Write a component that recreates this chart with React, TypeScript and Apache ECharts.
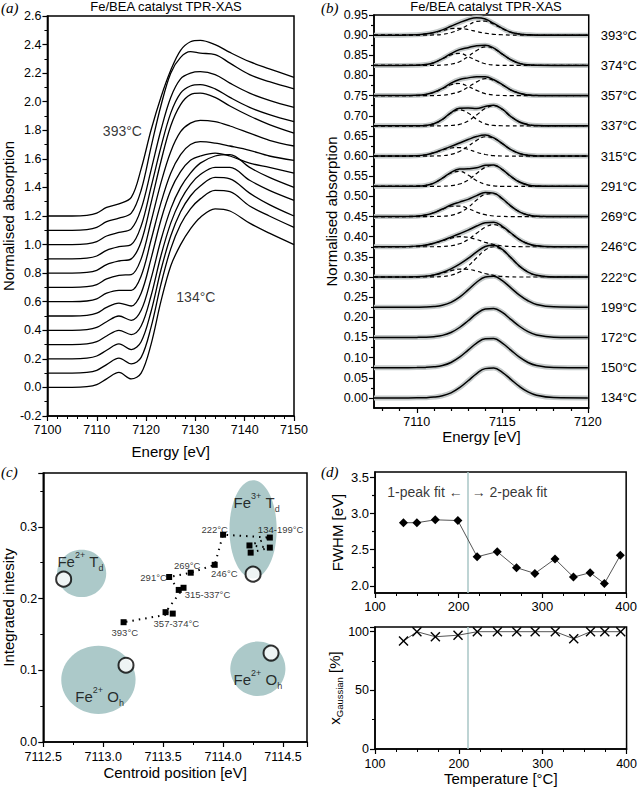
import React, { useEffect, useRef } from 'react';
import * as echarts from 'echarts';

const FONT = "'Liberation Sans', Arial, sans-serif";

// ---------- shared ----------
const TEMPS = [134, 150, 172, 199, 222, 246, 269, 291, 315, 337, 357, 374, 393];
const TEMP_LABELS = TEMPS.map((t) => `${t}°C`);

// ---------- panel (a): XANES spectra (offset already included) ----------
const ENERGY_A = [7100, 7105, 7108, 7110, 7112, 7114.5, 7117, 7119, 7121, 7123, 7125, 7127, 7129, 7131, 7134, 7137, 7141, 7145, 7150];
const XANES_134 = [0.0, 0.0, 0.005, 0.02, 0.06, 0.105, 0.06, 0.10, 0.30, 0.60, 0.85, 1.00, 1.11, 1.19, 1.25, 1.235, 1.15, 1.08, 1.00];
const XANES_150 = [0.1, 0.1, 0.105, 0.12, 0.16, 0.205, 0.165, 0.21, 0.42, 0.72, 0.97, 1.14, 1.25, 1.32, 1.38, 1.37, 1.27, 1.20, 1.12];
const XANES_172 = [0.2, 0.2, 0.205, 0.22, 0.26, 0.305, 0.265, 0.32, 0.53, 0.82, 1.06, 1.23, 1.34, 1.41, 1.47, 1.46, 1.36, 1.28, 1.20];
const XANES_199 = [0.3, 0.3, 0.305, 0.32, 0.36, 0.40, 0.37, 0.43, 0.64, 0.92, 1.15, 1.31, 1.42, 1.49, 1.54, 1.54, 1.45, 1.38, 1.31];
const XANES_222 = [0.4, 0.4, 0.405, 0.42, 0.46, 0.50, 0.47, 0.54, 0.76, 1.03, 1.25, 1.40, 1.50, 1.57, 1.62, 1.63, 1.54, 1.47, 1.40];
const XANES_246 = [0.5, 0.5, 0.505, 0.52, 0.56, 0.59, 0.57, 0.66, 0.90, 1.17, 1.38, 1.51, 1.59, 1.62, 1.64, 1.62, 1.57, 1.54, 1.50];
const XANES_269 = [0.6, 0.6, 0.605, 0.62, 0.66, 0.68, 0.68, 0.78, 1.03, 1.29, 1.50, 1.63, 1.70, 1.72, 1.71, 1.69, 1.66, 1.62, 1.59];
const XANES_291 = [0.7, 0.7, 0.705, 0.72, 0.76, 0.785, 0.79, 0.90, 1.16, 1.43, 1.65, 1.79, 1.85, 1.87, 1.86, 1.83, 1.78, 1.73, 1.69];
const XANES_315 = [0.8, 0.8, 0.805, 0.82, 0.86, 0.885, 0.90, 1.02, 1.29, 1.58, 1.83, 1.98, 2.05, 2.06, 2.03, 1.97, 1.90, 1.84, 1.78];
const XANES_337 = [0.9, 0.9, 0.905, 0.92, 0.96, 0.985, 1.00, 1.13, 1.40, 1.68, 1.92, 2.06, 2.11, 2.12, 2.09, 2.03, 1.96, 1.91, 1.86];
const XANES_357 = [1.0, 1.0, 1.005, 1.02, 1.06, 1.085, 1.11, 1.25, 1.52, 1.80, 2.03, 2.16, 2.20, 2.21, 2.19, 2.13, 2.06, 2.01, 1.96];
const XANES_374 = [1.1, 1.1, 1.105, 1.12, 1.16, 1.185, 1.22, 1.38, 1.68, 1.97, 2.20, 2.31, 2.35, 2.34, 2.33, 2.27, 2.19, 2.14, 2.09];
const XANES_393 = [1.2, 1.2, 1.205, 1.22, 1.26, 1.285, 1.33, 1.53, 1.80, 2.03, 2.22, 2.36, 2.42, 2.43, 2.40, 2.345, 2.28, 2.23, 2.17];
const XANES = [XANES_134, XANES_150, XANES_172, XANES_199, XANES_222, XANES_246, XANES_269, XANES_291, XANES_315, XANES_337, XANES_357, XANES_374, XANES_393];

// ---------- panel (b): pre-edge fits (heights above each baseline) ----------
const ENERGY_B = [7107.5, 7109, 7110, 7110.5, 7111, 7111.5, 7112, 7112.5, 7113, 7113.5, 7114, 7114.5, 7115, 7115.5, 7116, 7116.5, 7117, 7118, 7120];
const BASELINES_B = [0, 0.075, 0.15, 0.225, 0.30, 0.375, 0.45, 0.525, 0.60, 0.675, 0.75, 0.825, 0.90];
const FIT_134 = [0, 0, 0.0002, 0.0006, 0.002, 0.0053, 0.0126, 0.0253, 0.0425, 0.0605, 0.0727, 0.074, 0.0636, 0.046, 0.0285, 0.0148, 0.0065, 0.0008, 0];
const FIT_150 = [0, 0, 0.0002, 0.0007, 0.0022, 0.0056, 0.013, 0.026, 0.0435, 0.061, 0.072, 0.0725, 0.061, 0.0435, 0.026, 0.013, 0.0056, 0.0007, 0];
const FIT_172 = [0, 0, 0.0002, 0.0006, 0.002, 0.0052, 0.0123, 0.0247, 0.0414, 0.059, 0.0708, 0.072, 0.062, 0.0448, 0.0278, 0.0144, 0.0063, 0.0008, 0];
const FIT_199 = [0, 0, 0.0002, 0.0005, 0.0018, 0.005, 0.012, 0.025, 0.043, 0.062, 0.075, 0.077, 0.066, 0.048, 0.030, 0.016, 0.007, 0.001, 0];
const FIT_222 = [0, 0, 0.0005, 0.0018, 0.005, 0.011, 0.0201, 0.0319, 0.0461, 0.0622, 0.0756, 0.079, 0.0684, 0.0481, 0.027, 0.0123, 0.0044, 0.0003, 0];
const FIT_246 = [0, 0.0001, 0.0016, 0.004, 0.0088, 0.0156, 0.0239, 0.0324, 0.0413, 0.0514, 0.0595, 0.0606, 0.0508, 0.0342, 0.018, 0.0074, 0.0024, 0.0001, 0];
const FIT_269 = [0, 0, 0.001, 0.0036, 0.0096, 0.0188, 0.0285, 0.0357, 0.0426, 0.052, 0.0596, 0.0581, 0.0443, 0.026, 0.0116, 0.004, 0.001, 0, 0];
const FIT_291 = [0, 0, 0.0004, 0.002, 0.008, 0.0203, 0.0345, 0.0427, 0.0435, 0.046, 0.052, 0.053, 0.0415, 0.0245, 0.0107, 0.0034, 0.0008, 0, 0];
const FIT_315 = [0, 0, 0.0008, 0.003, 0.0082, 0.016, 0.024, 0.0325, 0.041, 0.0485, 0.052, 0.045, 0.031, 0.016, 0.0065, 0.002, 0.0005, 0, 0];
const FIT_337 = [0, 0, 0.0002, 0.001, 0.005, 0.0161, 0.0328, 0.0436, 0.044, 0.043, 0.048, 0.051, 0.0412, 0.023, 0.0095, 0.003, 0.0006, 0, 0];
const FIT_357 = [0, 0, 0.0006, 0.0025, 0.0082, 0.018, 0.031, 0.040, 0.044, 0.047, 0.047, 0.0394, 0.0273, 0.014, 0.006, 0.0017, 0.0004, 0, 0];
const FIT_374 = [0, 0, 0.0003, 0.002, 0.0066, 0.0167, 0.029, 0.039, 0.044, 0.049, 0.050, 0.043, 0.028, 0.014, 0.005, 0.0013, 0.0003, 0, 0];
const FIT_393 = [0, 0, 0.001, 0.003, 0.0065, 0.013, 0.022, 0.031, 0.039, 0.043, 0.040, 0.029, 0.017, 0.007, 0.003, 0.001, 0, 0, 0];
const FITS = [FIT_134, FIT_150, FIT_172, FIT_199, FIT_222, FIT_246, FIT_269, FIT_291, FIT_315, FIT_337, FIT_357, FIT_374, FIT_393];

// two-peak components (index into TEMPS, left component, right component)
const LEFT_222 = [0, 0, 0.0005, 0.0018, 0.0047, 0.0097, 0.0157, 0.0196, 0.0191, 0.0145, 0.0086, 0.004, 0.0014, 0.0004, 0, 0, 0, 0, 0];
const RIGHT_222 = [0, 0, 0, 0, 0.0003, 0.0013, 0.0044, 0.0123, 0.027, 0.0477, 0.067, 0.075, 0.067, 0.0477, 0.027, 0.0123, 0.0044, 0.0003, 0];
const LEFT_246 = [0, 0.0001, 0.0016, 0.004, 0.0087, 0.015, 0.0215, 0.025, 0.0235, 0.018, 0.011, 0.0056, 0.0023, 0.0008, 0.0002, 0, 0, 0, 0];
const RIGHT_246 = [0, 0, 0, 0, 0.0001, 0.0006, 0.0024, 0.0074, 0.0178, 0.0334, 0.0485, 0.055, 0.0485, 0.0334, 0.0178, 0.0074, 0.0024, 0.0001, 0];
const LEFT_269 = [0, 0, 0.001, 0.0036, 0.0095, 0.018, 0.0255, 0.026, 0.020, 0.011, 0.0046, 0.0014, 0.0003, 0, 0, 0, 0, 0, 0];
const RIGHT_269 = [0, 0, 0, 0, 0.0001, 0.0008, 0.003, 0.0097, 0.0226, 0.041, 0.055, 0.0567, 0.044, 0.026, 0.0116, 0.004, 0.001, 0, 0];
const LEFT_291 = [0, 0, 0.0004, 0.002, 0.008, 0.020, 0.033, 0.037, 0.028, 0.014, 0.005, 0.001, 0, 0, 0, 0, 0, 0, 0];
const RIGHT_291 = [0, 0, 0, 0, 0, 0.0003, 0.0015, 0.0057, 0.0155, 0.032, 0.047, 0.052, 0.0415, 0.0245, 0.0107, 0.0034, 0.0008, 0, 0];
const LEFT_315 = [0, 0, 0.0008, 0.003, 0.008, 0.015, 0.020, 0.021, 0.0165, 0.0095, 0.004, 0.001, 0.0002, 0, 0, 0, 0, 0, 0];
const RIGHT_315 = [0, 0, 0, 0, 0.0002, 0.001, 0.0042, 0.0115, 0.0245, 0.039, 0.048, 0.044, 0.031, 0.016, 0.0065, 0.002, 0.0005, 0, 0];
const LEFT_337 = [0, 0, 0.0002, 0.001, 0.005, 0.016, 0.032, 0.040, 0.032, 0.016, 0.005, 0.001, 0.0002, 0, 0, 0, 0, 0, 0];
const RIGHT_337 = [0, 0, 0, 0, 0, 0.0001, 0.0008, 0.0036, 0.012, 0.027, 0.043, 0.050, 0.041, 0.023, 0.0095, 0.003, 0.0006, 0, 0];
const LEFT_357 = [0, 0, 0.0006, 0.0025, 0.008, 0.017, 0.027, 0.030, 0.023, 0.013, 0.005, 0.0014, 0.0003, 0, 0, 0, 0, 0, 0];
const RIGHT_357 = [0, 0, 0, 0, 0.0002, 0.001, 0.004, 0.010, 0.021, 0.034, 0.042, 0.038, 0.027, 0.014, 0.006, 0.0017, 0.0004, 0, 0];
const LEFT_374 = [0, 0, 0.0003, 0.002, 0.0065, 0.016, 0.026, 0.030, 0.022, 0.012, 0.004, 0.001, 0, 0, 0, 0, 0, 0, 0];
const RIGHT_374 = [0, 0, 0, 0, 0.0001, 0.0007, 0.003, 0.009, 0.022, 0.037, 0.046, 0.042, 0.028, 0.014, 0.005, 0.0013, 0.0003, 0, 0];
const LEFT_393 = [0, 0, 0.001, 0.003, 0.006, 0.011, 0.016, 0.017, 0.014, 0.009, 0.005, 0.002, 0.001, 0, 0, 0, 0, 0, 0];
const RIGHT_393 = [0, 0, 0, 0, 0.0005, 0.002, 0.006, 0.014, 0.025, 0.034, 0.035, 0.027, 0.016, 0.007, 0.003, 0.001, 0, 0, 0];
const COMPONENTS: [number, number[], number[]][] = [
  [4, LEFT_222, RIGHT_222], [5, LEFT_246, RIGHT_246], [6, LEFT_269, RIGHT_269],
  [7, LEFT_291, RIGHT_291], [8, LEFT_315, RIGHT_315], [9, LEFT_337, RIGHT_337],
  [10, LEFT_357, RIGHT_357], [11, LEFT_374, RIGHT_374], [12, LEFT_393, RIGHT_393],
];

// ---------- panel (c): centroid vs integrated intensity ----------
const CENTROID = [7114.23, 7114.39, 7114.22, 7114.39, 7114.00, 7113.93, 7113.73, 7113.55, 7113.63, 7113.67, 7113.52, 7113.58, 7113.17];
const INTENSITY = [0.264, 0.271, 0.274, 0.285, 0.289, 0.247, 0.236, 0.230, 0.212, 0.215, 0.181, 0.179, 0.167];
const REF_CENTROID = [7112.67, 7114.25, 7113.19, 7114.40];
const REF_INTENSITY = [0.227, 0.234, 0.107, 0.124];
// reference regions: centre x, centre y, half-width (eV), half-height
const REGION_X = [7114.25, 7112.82, 7112.96, 7114.29];
const REGION_Y = [0.2965, 0.235, 0.0867, 0.102];
const REGION_RX = [0.197, 0.205, 0.31, 0.23];
const REGION_RY = [0.0685, 0.033, 0.0475, 0.038];
const REGION_LABELS = ['{m|Fe}{sup|3+}{m| T}{sub|d}', '{m|Fe}{sup|2+}{m| T}{sub|d}', '{m|Fe}{sup|2+}{m| O}{sub|h}', '{m|Fe}{sup|2+}{m| O}{sub|h}'];
const REGION_LABEL_POS = [[7114.28, 0.334], [7112.81, 0.252], [7112.97, 0.063], [7114.29, 0.087]];
const POINT_LABELS = ['222°C', '134-199°C', '269°C', '246°C', '291°C', '315-337°C', '357-374°C', '393°C'];
const POINT_LABEL_POS = [[7113.93, 0.296], [7114.48, 0.296], [7113.70, 0.246], [7114.01, 0.235], [7113.42, 0.229], [7113.87, 0.206], [7113.61, 0.165], [7113.18, 0.152]];

// ---------- panel (d) ----------
const FWHM = [2.87, 2.87, 2.91, 2.90, 2.40, 2.47, 2.25, 2.17, 2.37, 2.12, 2.18, 2.03, 2.42];
const X_GAUSSIAN = [92, 100, 95.7, 97, 100, 100, 100, 100, 100, 94, 100, 100, 100];
const FIT_SWITCH_T = 211;

// tick label values
const B_X_LABELS = [7110, 7115, 7120];
const B_X_MINOR = [7108, 7109, 7111, 7112, 7113, 7114, 7116, 7117, 7118, 7119];
const B_Y_LABELS = [0, 0.05, 0.1, 0.15, 0.2, 0.25, 0.3, 0.35, 0.4, 0.45, 0.5, 0.55, 0.6, 0.65, 0.7, 0.75, 0.8, 0.85, 0.9, 0.95];
const B_Y_MINOR = [0.025, 0.075, 0.125, 0.175, 0.225, 0.275, 0.325, 0.375, 0.425, 0.475, 0.525, 0.575, 0.625, 0.675, 0.725, 0.775, 0.825, 0.875, 0.925];
const D_Y_LABELS = [2.0, 2.5, 3.0, 3.5];
const D_Y_MINOR = [2.25, 2.75, 3.25];

function axis(o: any) {
  const base: any = {
    axisLine: { show: true, onZero: false, lineStyle: { color: '#000', width: 1.5 } },
    axisTick: { show: true, inside: false, length: 5, lineStyle: { color: '#000', width: 1.2 } },
    minorTick: { show: true, length: 3, lineStyle: { color: '#000', width: 1 } },
    splitLine: { show: false },
    axisLabel: { color: '#000', fontSize: 12.5, fontFamily: FONT },
    nameTextStyle: { color: '#000', fontSize: 15, fontFamily: FONT },
  };
  const out: any = { ...base, ...o };
  for (const k of ['axisLine', 'axisTick', 'minorTick', 'axisLabel', 'nameTextStyle']) {
    if (o[k]) out[k] = { ...base[k], ...o[k] };
  }
  return out;
}

function textSeries(xi: number, yi: number, items: any[], extra: any = {}) {
  return {
    type: 'scatter', xAxisIndex: xi, yAxisIndex: yi, symbolSize: 0, silent: true, z: 10,
    itemStyle: { color: 'rgba(0,0,0,0)' },
    label: { show: true, position: [0, 0], align: 'center', verticalAlign: 'middle', color: '#000', fontFamily: FONT, fontSize: 12, ...extra },
    data: items,
  };
}

function buildOption() {
  const series: any[] = [];

  // (a)
  XANES.forEach((arr, i) => {
    series.push({
      type: 'line', xAxisIndex: 0, yAxisIndex: 0, showSymbol: false, smooth: 0.35,
      lineStyle: { color: '#000', width: 1.3 }, data: ENERGY_A.map((e, j) => [e, arr[j]]), name: TEMP_LABELS[i],
    });
  });
  series.push(textSeries(0, 0, [
    { value: [7115.2, 1.797], label: { formatter: TEMP_LABELS[12] } },
    { value: [7130.1, 0.63], label: { formatter: TEMP_LABELS[0] } },
  ], { fontSize: 14 }));

  // (b) grey data
  FITS.forEach((arr, i) => {
    series.push({
      type: 'line', xAxisIndex: 1, yAxisIndex: 1, showSymbol: false, smooth: 0.4, z: 1,
      lineStyle: { color: '#c4c9c9', width: 5 }, data: ENERGY_B.map((e, j) => [e, BASELINES_B[i] + arr[j]]),
    });
  });
  // (b) dashed components
  COMPONENTS.forEach(([ti, L, R]) => {
    [L, R].forEach((arr) => {
      series.push({
        type: 'line', xAxisIndex: 1, yAxisIndex: 1, showSymbol: false, smooth: 0.4, z: 2,
        lineStyle: { color: '#000', width: 1.2, type: [4, 3] }, data: ENERGY_B.map((e, j) => [e, BASELINES_B[ti] + arr[j]]),
      });
    });
  });
  // (b) fits
  FITS.forEach((arr, i) => {
    series.push({
      type: 'line', xAxisIndex: 1, yAxisIndex: 1, showSymbol: false, smooth: 0.4, z: 3,
      lineStyle: { color: '#000', width: 1.5 }, data: ENERGY_B.map((e, j) => [e, BASELINES_B[i] + arr[j]]),
    });
  });

  // (c) regions
  series.push({
    type: 'custom', xAxisIndex: 3, yAxisIndex: 4, z: 1, silent: true,
    data: REGION_X.map((x, i) => [x, REGION_Y[i], REGION_RX[i], REGION_RY[i]]),
    renderItem: (params: any, api: any) => {
      const c = api.coord([api.value(0), api.value(1)]);
      const s = api.size([api.value(2), api.value(3)]);
      return { type: 'ellipse', shape: { cx: c[0], cy: c[1], rx: s[0], ry: s[1] }, style: { fill: '#acc9c9' } };
    },
  });
  series.push({
    type: 'scatter', xAxisIndex: 3, yAxisIndex: 4, z: 3, symbol: 'circle', symbolSize: 15,
    itemStyle: { color: '#fff', borderColor: '#000', borderWidth: 2 },
    data: REF_CENTROID.map((x, i) => [x, REF_INTENSITY[i]]),
  });
  series.push({
    type: 'line', xAxisIndex: 3, yAxisIndex: 4, z: 4, symbol: 'rect', symbolSize: 6,
    itemStyle: { color: '#000' }, lineStyle: { color: '#000', width: 2, type: [1.5, 5] },
    data: CENTROID.map((x, i) => [x, INTENSITY[i]]),
  });
  series.push(textSeries(3, 4, POINT_LABELS.map((t, i) => ({ value: POINT_LABEL_POS[i], label: { formatter: t } })), { fontSize: 9.5 }));
  series.push(textSeries(3, 4, REGION_LABELS.map((t, i) => ({ value: REGION_LABEL_POS[i], label: { formatter: t } })), {
    rich: {
      m: { fontSize: 15, fontFamily: FONT, color: '#000', lineHeight: 22, verticalAlign: 'middle' },
      sup: { fontSize: 9, fontFamily: FONT, color: '#000', lineHeight: 22, verticalAlign: 'top', padding: [0, 0, 10, 0] },
      sub: { fontSize: 9, fontFamily: FONT, color: '#000', lineHeight: 22, verticalAlign: 'bottom', padding: [8, 0, 0, 0] },
    },
  }));

  // (d) top
  series.push({
    type: 'line', xAxisIndex: 4, yAxisIndex: 5, z: 3, symbol: 'diamond', symbolSize: 9,
    itemStyle: { color: '#000' }, lineStyle: { color: '#555', width: 1 },
    data: TEMPS.map((t, i) => [t, FWHM[i]]),
    markLine: {
      silent: true, symbol: 'none', label: { show: false }, z: 1,
      lineStyle: { color: '#a9c6c6', width: 1.5, type: 'solid' }, data: [{ xAxis: FIT_SWITCH_T }],
    },
  });
  series.push(textSeries(4, 5, [
    { value: [204.8, 3.29], label: { formatter: '1-peak fit ←', align: 'right' } },
    { value: [215.5, 3.29], label: { formatter: '→ 2-peak fit', align: 'left' } },
  ], { fontSize: 14 }));

  // (d) bottom
  series.push({
    type: 'line', xAxisIndex: 5, yAxisIndex: 6, z: 3,
    symbol: 'path://M0,1 L1,0 L5,4 L9,0 L10,1 L6,5 L10,9 L9,10 L5,6 L1,10 L0,9 L4,5 Z', symbolSize: 10,
    itemStyle: { color: '#000' }, lineStyle: { color: '#555', width: 1 },
    data: TEMPS.map((t, i) => [t, X_GAUSSIAN[i]]),
    markLine: {
      silent: true, symbol: 'none', label: { show: false }, z: 1,
      lineStyle: { color: '#a9c6c6', width: 1.5, type: 'solid' }, data: [{ xAxis: FIT_SWITCH_T }],
    },
  });

  const gridBase = { show: true, borderColor: '#000', borderWidth: 1.5, containLabel: false };

  return {
    animation: false,
    backgroundColor: '#fff',
    textStyle: { fontFamily: FONT },
    grid: [
      { ...gridBase, left: 42, top: 16, width: 252, height: 400 },
      { ...gridBase, left: 374, top: 15, width: 218, height: 393 },
      { ...gridBase, left: 38, top: 473, width: 269, height: 269 },
      { ...gridBase, left: 375, top: 472, width: 252, height: 121 },
      { ...gridBase, left: 375, top: 627, width: 252, height: 122 },
    ],
    xAxis: [
      axis({ gridIndex: 0, type: 'value', min: 7100, max: 7150, interval: 10, minorTick: { show: true, splitNumber: 5 },
        name: 'Energy [eV]', nameLocation: 'middle', nameGap: 28,
        axisLabel: { margin: 7, formatter: (v: number) => String(Math.round(v)) } }),
      axis({ gridIndex: 1, type: 'value', min: 7107.5, max: 7120.05, position: 'bottom',
        axisLabel: { customValues: B_X_LABELS, margin: 7, formatter: (v: number) => String(Math.round(v)) },
        axisTick: { customValues: B_X_LABELS }, minorTick: { show: false },
        name: 'Energy [eV]', nameLocation: 'middle', nameGap: 21 }),
      axis({ gridIndex: 1, type: 'value', min: 7107.5, max: 7120.05, position: 'bottom', offset: 0,
        axisLine: { show: false }, axisLabel: { show: false }, minorTick: { show: false },
        axisTick: { customValues: B_X_MINOR, length: 3 } }),
      axis({ gridIndex: 2, type: 'value', min: 7112.5, max: 7114.7, interval: 0.5, minorTick: { show: true, splitNumber: 2 },
        axisLabel: { showMaxLabel: false, fontSize: 12.5, margin: 8, formatter: (v: number) => v.toFixed(1) },
        name: 'Centroid position [eV]', nameLocation: 'middle', nameGap: 23 }),
      axis({ gridIndex: 3, type: 'value', min: 100, max: 400, interval: 100, minorTick: { show: true, splitNumber: 4 },
        axisLabel: { fontSize: 13, margin: 7, formatter: (v: number) => String(Math.round(v)) } }),
      axis({ gridIndex: 4, type: 'value', min: 100, max: 400, interval: 100, minorTick: { show: true, splitNumber: 4 },
        axisLabel: { fontSize: 12.5, margin: 8, formatter: (v: number) => String(Math.round(v)) },
        name: 'Temperature [°C]', nameLocation: 'middle', nameGap: 22 }),
    ],
    yAxis: [
      axis({ gridIndex: 0, type: 'value', min: -0.2, max: 2.6, interval: 0.2, minorTick: { show: true, splitNumber: 2 },
        axisLabel: { margin: 6, formatter: (v: number) => v.toFixed(1) },
        name: 'Normalised absorption', nameLocation: 'middle', nameGap: 27 }),
      axis({ gridIndex: 1, type: 'value', min: -0.025, max: 0.95, position: 'left',
        axisLabel: { customValues: B_Y_LABELS, margin: 6, formatter: (v: number) => v.toFixed(2) },
        axisTick: { customValues: B_Y_LABELS }, minorTick: { show: false },
        name: 'Normalised absorption', nameLocation: 'middle', nameGap: 35 }),
      axis({ gridIndex: 1, type: 'value', min: -0.025, max: 0.95, position: 'right',
        axisLine: { show: false }, axisTick: { show: false }, minorTick: { show: false },
        axisLabel: { customValues: BASELINES_B, margin: 12, fontSize: 13,
          formatter: (v: number) => { const i = BASELINES_B.findIndex((b) => Math.abs(b - v) < 1e-6); return i >= 0 ? TEMP_LABELS[i] : ''; } } }),
      axis({ gridIndex: 1, type: 'value', min: -0.025, max: 0.95, position: 'left', offset: 0,
        axisLine: { show: false }, axisLabel: { show: false }, minorTick: { show: false },
        axisTick: { customValues: B_Y_MINOR, length: 3 } }),
      axis({ gridIndex: 2, type: 'value', min: 0, max: 0.375, interval: 0.1, minorTick: { show: true, splitNumber: 2 },
        axisLabel: { showMaxLabel: false, fontSize: 12.5, margin: 6, formatter: (v: number) => v.toFixed(1) },
        name: 'Integrated intesity', nameLocation: 'middle', nameGap: 24 }),
      axis({ gridIndex: 3, type: 'value', min: 1.9, max: 3.57, position: 'left',
        axisLabel: { customValues: D_Y_LABELS, fontSize: 13, margin: 6, formatter: (v: number) => v.toFixed(1) },
        axisTick: { customValues: D_Y_LABELS }, minorTick: { show: false },
        name: 'FWHM [eV]', nameLocation: 'middle', nameGap: 30 }),
      axis({ gridIndex: 4, type: 'value', min: 0, max: 104, interval: 50, minorTick: { show: true, splitNumber: 2 },
        axisLabel: { showMaxLabel: false, fontSize: 12.5, margin: 6 },
        name: '{x|x}{s|Gaussian}{x| [%]}', nameLocation: 'middle', nameGap: 27,
        nameTextStyle: { rich: {
          x: { fontSize: 15, fontFamily: FONT, color: '#000', lineHeight: 20, verticalAlign: 'middle' },
          s: { fontSize: 9.5, fontFamily: FONT, color: '#000', lineHeight: 20, verticalAlign: 'bottom', padding: [7, 0, 0, 0] },
        } } }),
      axis({ gridIndex: 3, type: 'value', min: 1.9, max: 3.57, position: 'left', offset: 0,
        axisLine: { show: false }, axisLabel: { show: false }, minorTick: { show: false },
        axisTick: { customValues: D_Y_MINOR, length: 3 } }),
    ],
    graphic: [
      { type: 'text', left: 1, top: 0, style: { text: '(a)', font: 'italic 15px "Liberation Serif", serif', fill: '#000' } },
      { type: 'text', left: 321, top: 0, style: { text: '(b)', font: 'italic 15px "Liberation Serif", serif', fill: '#000' } },
      { type: 'text', left: 1, top: 464, style: { text: '(c)', font: 'italic 15px "Liberation Serif", serif', fill: '#000' } },
      { type: 'text', left: 321, top: 464, style: { text: '(d)', font: 'italic 15px "Liberation Serif", serif', fill: '#000' } },
      { type: 'text', x: 166, y: 6, style: { text: 'Fe/BEA catalyst TPR-XAS', font: `13px ${FONT}`, fill: '#000', textAlign: 'center', textVerticalAlign: 'middle' } },
      { type: 'text', x: 486, y: 6, style: { text: 'Fe/BEA catalyst TPR-XAS', font: `13px ${FONT}`, fill: '#000', textAlign: 'center', textVerticalAlign: 'middle' } },
    ],
    series,
  };
}

export default function App() {
  const ref = useRef<HTMLDivElement>(null);
  useEffect(() => {
    if (!ref.current) return;
    const chart = echarts.init(ref.current, null, { renderer: 'svg' });
    chart.setOption(buildOption() as any);
    return () => chart.dispose();
  }, []);
  return (
    <div
      ref={ref}
      style={{ position: 'absolute', left: 0, top: 0, width: 640, height: 791, background: '#fff' }}
    />
  );
}
